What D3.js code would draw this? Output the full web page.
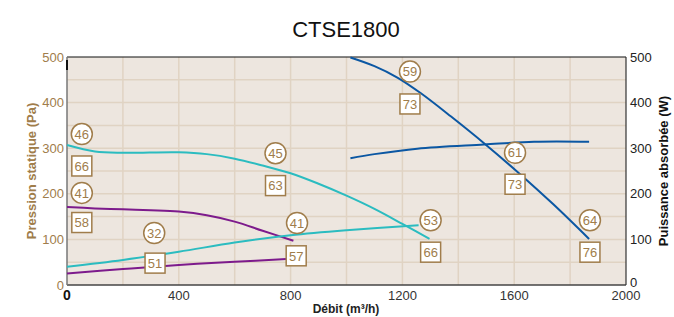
<!DOCTYPE html>
<html>
<head>
<meta charset="utf-8">
<script src="https://cdn.jsdelivr.net/npm/d3@7"></script>
<style>
body { margin: 0; background: #fff; }
text { font-family: "Liberation Sans", Arial, sans-serif; }
</style>
</head>
<body>
<script>
var width = 674, height = 317,
marginTop = 57, marginLeft = 67, marginRight = 48, marginBottom = 32;

var xTicks = [0, 400, 800, 1200, 1600, 2000];
var yTicks = [0, 100, 200, 300, 400, 500];

// debit (m3/h) / pression (Pa) or puissance (W)
var cyanPressure = [[0, 307], [100, 293], [200, 290], [400, 291], [500, 287], [600, 277], [700, 262], [800, 245], [900, 222], [1000, 196], [1100, 167], [1200, 134], [1297, 101]];
var purplePressure = [[0, 171], [100, 168], [200, 166], [300, 164], [400, 161], [500, 153], [600, 139], [700, 119], [810, 97]];
var bluePressure = [[1014, 499], [1100, 480], [1182, 455], [1265, 421], [1373, 370], [1492, 311], [1612, 248], [1740, 177], [1868, 101]];
var cyanPower = [[0, 40], [200, 55], [400, 73], [600, 93], [800, 109], [1000, 120], [1258, 131]];
var purplePower = [[0, 25], [200, 35], [400, 44], [600, 51], [785, 57]];
var bluePower = [[1014, 278], [1100, 287], [1253, 299], [1492, 308], [1671, 314], [1868, 314]];

var circleLabels = [["46", 53, 331], ["41", 53, 202], ["45", 746, 289], ["32", 312, 114], ["41", 823, 136], ["59", 1227, 468], ["61", 1603, 290], ["53", 1301, 142], ["64", 1871, 142]];
var boxLabels = [["66", 53, 261], ["58", 53, 137], ["63", 746, 218], ["51", 315, 48], ["57", 820, 64], ["73", 1227, 397], ["73", 1603, 221], ["66", 1301, 72], ["76", 1871, 72]];

var brown = "#a07d4b";

var svg = d3.select("body").append("svg")
 .attr("width", width)
 .attr("height", height);

var x = d3.scaleLinear().domain([0, 2000]).range([marginLeft, width - marginRight]);
var y = d3.scaleLinear().domain([0, 500]).range([height - marginBottom, marginTop]);
var y2 = d3.scaleLinear().domain([0, 500]).range([height - marginBottom, marginTop]);

svg.append("rect")
 .attr("x", x(0)).attr("y", y(500))
 .attr("width", x(2000) - x(0)).attr("height", y(0) - y(500))
 .style("fill", "#ede6df");

// grid
svg.append("g").selectAll("line")
 .data(d3.range(200, 2000, 200))
 .enter().append("line")
 .attr("x1", function (d) { return x(d); }).attr("x2", function (d) { return x(d); })
 .attr("y1", y(0)).attr("y2", y(500))
 .style("stroke", "#e0d3c3").style("stroke-width", 1.5);

svg.append("g").selectAll("line")
 .data(d3.range(50, 500, 50))
 .enter().append("line")
 .attr("x1", x(0)).attr("x2", x(2000))
 .attr("y1", function (d) { return y(d); }).attr("y2", function (d) { return y(d); })
 .style("stroke", "#e0d3c3").style("stroke-width", 1.5);

// frame
svg.append("line").attr("x1", x(0)).attr("x2", x(2000)).attr("y1", y(500)).attr("y2", y(500)).style("stroke", "#111").style("stroke-width", 1.2);
svg.append("line").attr("x1", x(0)).attr("x2", x(2000)).attr("y1", y(0)).attr("y2", y(0)).style("stroke", "#444").style("stroke-width", 1.5);
svg.append("line").attr("x1", x(0)).attr("x2", x(0)).attr("y1", y(0)).attr("y2", y(500)).style("stroke", "#777").style("stroke-width", 1.5);
svg.append("line").attr("x1", x(2000)).attr("x2", x(2000)).attr("y1", y(0)).attr("y2", y(500)).style("stroke", "#333").style("stroke-width", 1.2);
svg.append("line").attr("x1", x(0)).attr("x2", x(0)).attr("y1", y(500) + 3).attr("y2", y(500) + 13).style("stroke", "#111").style("stroke-width", 2);

// tick labels
svg.append("g").selectAll("text")
 .data(yTicks)
 .enter().append("text")
 .attr("x", x(0) - 3)
 .attr("y", function (d) { return y(d); })
 .attr("dy", "0.35em")
 .attr("text-anchor", "end")
 .style("font-size", "13px")
 .style("fill", brown)
 .text(function (d) { return d; });

svg.append("g").selectAll("text")
 .data(yTicks)
 .enter().append("text")
 .attr("x", x(2000) + 4)
 .attr("y", function (d) { return d == 0 ? y(d) - 3 : y(d); })
 .attr("dy", "0.35em")
 .style("font-size", "13px")
 .style("fill", "#222")
 .text(function (d) { return d; });

svg.append("g").selectAll("text")
 .data(xTicks)
 .enter().append("text")
 .attr("x", function (d) { return x(d); })
 .attr("y", y(0) + 15)
 .attr("text-anchor", "middle")
 .style("font-size", d => d == 0 ? "14px" : "13px")
 .style("font-weight", d => d == 0 ? "bold" : "normal")
 .style("fill", d => d == 0 ? "#111" : "#333")
 .text(function (d) { return d; });

// titles
svg.append("text")
 .attr("x", 346).attr("y", 37)
 .attr("text-anchor", "middle")
 .style("font-size", "22px")
 .style("fill", "#111")
 .text("CTSE1800");

svg.append("text")
 .attr("x", 346).attr("y", 313)
 .attr("text-anchor", "middle")
 .style("font-size", "12px")
 .style("font-weight", "bold")
 .style("fill", "#222")
 .text("Débit (m³/h)");

svg.append("text")
 .attr("transform", "translate(36," + y(250) + ") rotate(-90)")
 .attr("text-anchor", "middle")
 .style("font-size", "13px")
 .style("font-weight", "bold")
 .style("fill", brown)
 .text("Pression statique (Pa)");

svg.append("text")
 .attr("transform", "translate(668," + y(250) + ") rotate(-90)")
 .attr("text-anchor", "middle")
 .style("font-size", "13px")
 .style("font-weight", "bold")
 .style("fill", "#111")
 .text("Puissance absorbée (W)");

// curves
var line = d3.line()
 .x(function (d) { return x(d[0]); })
 .y(function (d) { return y(d[1]); })
 .curve(d3.curveCatmullRom.alpha(0.5));
var line2 = d3.line()
 .x(function (d) { return x(d[0]); })
 .y(function (d) { return y2(d[1]); })
 .curve(d3.curveCatmullRom.alpha(0.5));

var curves = [
 [cyanPressure, "#2bbcc0", line],
 [purplePressure, "#7d1b8c", line],
 [bluePressure, "#0b57a3", line],
 [cyanPower, "#2bbcc0", line2],
 [purplePower, "#7d1b8c", line2],
 [bluePower, "#0b57a3", line2]
];

svg.append("g").selectAll("path")
 .data(curves)
 .enter().append("path")
 .attr("d", function (d) { return d[2](d[0]); })
 .style("fill", "none")
 .style("stroke", function (d) { return d[1]; })
 .style("stroke-width", 2);

// labels
var circ = svg.append("g").selectAll("g")
 .data(circleLabels)
 .enter().append("g")
 .attr("transform", function (d) { return "translate(" + x(d[1]) + "," + y(d[2]) + ")"; });
circ.append("circle")
 .attr("r", 10.5)
 .style("fill", "#fff")
 .style("stroke", brown)
 .style("stroke-width", 1.5);
circ.append("text")
 .attr("text-anchor", "middle")
 .attr("dy", "0.36em")
 .style("font-size", "13px")
 .style("fill", brown)
 .text(function (d) { return d[0]; });

var box = svg.append("g").selectAll("g")
 .data(boxLabels)
 .enter().append("g")
 .attr("transform", function (d) { return "translate(" + x(d[1]) + "," + y(d[2]) + ")"; });
box.append("rect")
 .attr("x", -10).attr("y", -10)
 .attr("width", 20).attr("height", 20)
 .style("fill", "#fff")
 .style("stroke", brown)
 .style("stroke-width", 1.5);
box.append("text")
 .attr("text-anchor", "middle")
 .attr("dy", "0.36em")
 .style("font-size", "13px")
 .style("fill", brown)
 .text(function (d) { return d[0]; });
</script>
</body>
</html>
